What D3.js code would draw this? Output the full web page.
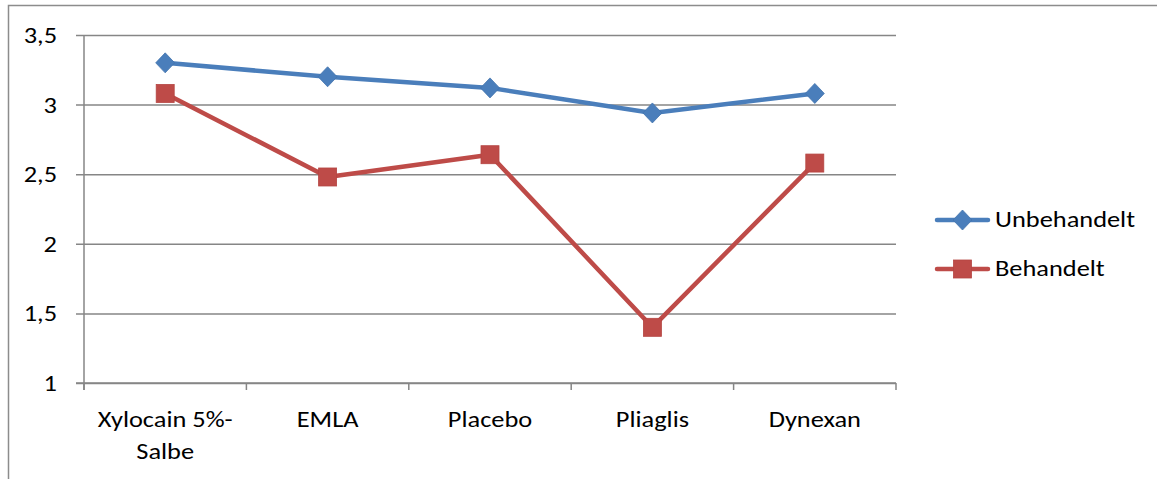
<!DOCTYPE html>
<html>
<head>
<meta charset="utf-8">
<script src="https://cdn.jsdelivr.net/npm/d3@7"></script>
<style>
  html, body { margin: 0; padding: 0; background: #fff; }
  svg { display: block; font-family: Carlito, Lato, "Open Sans", sans-serif; }
</style>
</head>
<body>
<svg id="chart" width="1157" height="479"></svg>
<script>
// Chart data
const categories = [["Xylocain 5%-", "Salbe"], ["EMLA"], ["Placebo"], ["Pliaglis"], ["Dynexan"]];
const unbehandelt = [3.30, 3.20, 3.12, 2.94, 3.08];
const behandelt = [3.08, 2.48, 2.64, 1.40, 2.58];
const yTicks = [1, 1.5, 2, 2.5, 3, 3.5];
const seriesNames = ["Unbehandelt", "Behandelt"];
const seriesColors = ["#4A7EBB", "#BE4B48"];

const svg = d3.select("#chart");
const plot = { left: 84, right: 896, top: 35, bottom: 383 };
const fontSize = 22;
const stretchX = 1.2;   // chart is wider than tall: text is stretched horizontally
const gridColor = "#868686";

// Text helper: places a horizontally stretched label at (px, py)
function label(parent, px, py, str, anchor) {
  return parent.append("text")
    .attr("transform", `translate(${px},${py}) scale(${stretchX},1)`)
    .attr("text-anchor", anchor)
    .attr("font-size", fontSize).attr("fill", "#000")
    .text(str);
}

// Outer chart frame (left and top edges visible)
svg.append("path")
  .attr("d", "M8.5,479 V5.5 H1157")
  .attr("fill", "none").attr("stroke", "#8c8c8c").attr("stroke-width", 1.5);

const x = d3.scaleBand().domain(d3.range(categories.length))
  .range([plot.left, plot.right]).paddingInner(0).paddingOuter(0);
const y = d3.scaleLinear().domain([1, 3.5]).range([plot.bottom, plot.top]);

const fmt = v => String(v).replace(".", ",");

// Horizontal gridlines with left tick stubs
const yAxis = d3.axisLeft(y).tickValues(yTicks).tickFormat("")
  .tickSize(-(plot.right - plot.left));
const gy = svg.append("g").attr("transform", `translate(${plot.left},0)`).call(yAxis);
gy.select(".domain").remove();
gy.selectAll(".tick text").remove();
gy.selectAll(".tick line")
  .attr("x1", -8)
  .attr("stroke", gridColor).attr("stroke-width", 1.5);

// Value labels
const ylab = svg.append("g");
yTicks.forEach(v => label(ylab, 57, y(v) + 8, fmt(v), "end"));

// Vertical value axis line
svg.append("line")
  .attr("x1", plot.left).attr("x2", plot.left)
  .attr("y1", plot.top).attr("y2", plot.bottom + 7)
  .attr("stroke", gridColor).attr("stroke-width", 1.5);

// Category axis line and tick marks at band boundaries
svg.append("line")
  .attr("x1", plot.left - 8).attr("x2", plot.right)
  .attr("y1", plot.bottom).attr("y2", plot.bottom)
  .attr("stroke", gridColor).attr("stroke-width", 1.5);
const boundaries = d3.range(categories.length + 1).map(i =>
  i < categories.length ? x(i) : x(i - 1) + x.bandwidth());
svg.append("g").selectAll("line").data(boundaries).join("line")
  .attr("x1", d => d).attr("x2", d => d)
  .attr("y1", plot.bottom).attr("y2", plot.bottom + 7)
  .attr("stroke", gridColor).attr("stroke-width", 1.5);

// Category labels
const cx = i => x(i) + x.bandwidth() / 2;
const labels = svg.append("g");
categories.forEach((lines, i) => {
  lines.forEach((ln, j) => label(labels, cx(i), 427 + j * 32, ln, "middle"));
});

// Series lines and markers
const line = d3.line().x((d, i) => cx(i)).y(d => y(d));
const allSeries = [unbehandelt, behandelt];

allSeries.forEach((vals, s) => {
  svg.append("path").datum(vals)
    .attr("d", line).attr("fill", "none")
    .attr("stroke", seriesColors[s]).attr("stroke-width", 4.5)
    .attr("stroke-linejoin", "round").attr("stroke-linecap", "round");
});

function marker(g, s, px, py) {
  if (s === 0) {
    g.append("path")
      .attr("d", `M${px},${py - 10} L${px + 9.5},${py} L${px},${py + 10} L${px - 9.5},${py} Z`)
      .attr("fill", seriesColors[0]).attr("stroke", "#4273ad").attr("stroke-width", 0.8);
  } else {
    g.append("rect")
      .attr("x", px - 9).attr("y", py - 9).attr("width", 18).attr("height", 18)
      .attr("fill", seriesColors[1]).attr("stroke", "#b54542").attr("stroke-width", 0.8);
  }
}

allSeries.forEach((vals, s) => {
  const g = svg.append("g");
  vals.forEach((v, i) => marker(g, s, cx(i), y(v)));
});

// Legend
const legendY = [220, 269];
seriesNames.forEach((name, s) => {
  const g = svg.append("g");
  g.append("line")
    .attr("x1", 937).attr("x2", 988)
    .attr("y1", legendY[s]).attr("y2", legendY[s])
    .attr("stroke", seriesColors[s]).attr("stroke-width", 4.5)
    .attr("stroke-linecap", "round");
  marker(g, s, 962.5, legendY[s]);
  label(g, 995, legendY[s] + 7, name, "start");
});
</script>
</body>
</html>
